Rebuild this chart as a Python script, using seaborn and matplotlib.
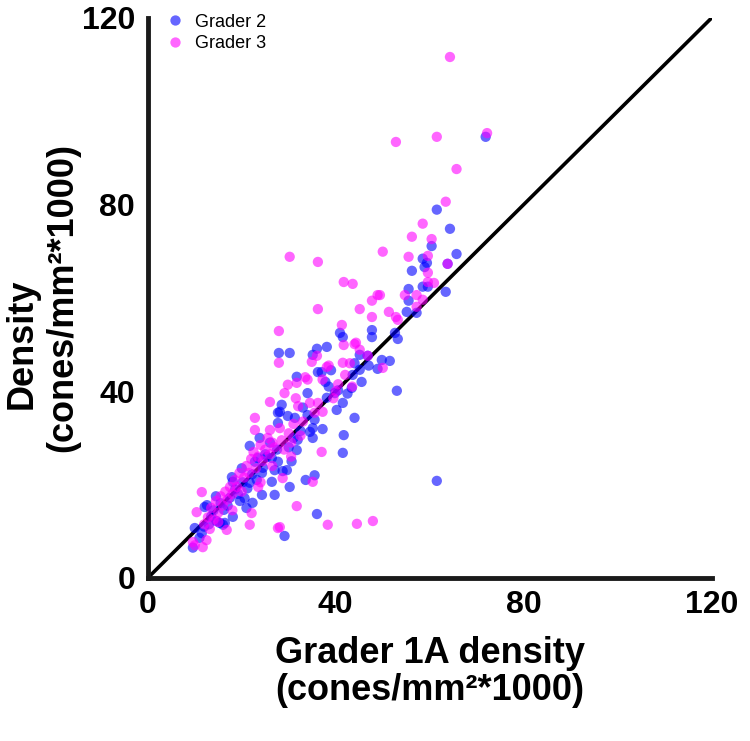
import numpy as np
import pandas as pd
import matplotlib
matplotlib.use("Agg")
import matplotlib.pyplot as plt
import seaborn as sns

# Grader 2 (blue): x = Grader 1A density, y = Grader 2 density
g2 = [
    (9.6,6.5),(10.0,10.7),(11.0,8.6),(11.5,9.6),(12.1,15.2),(12.6,15.6),(13.0,11.5),(13.5,13.2),
    (14.0,14.5),(14.6,12.2),(15.3,11.8),(16.0,11.4),(16.4,11.8),(15.5,16.0),(16.2,14.6),(17.0,15.5),
    (17.5,17.2),(17.9,21.6),(18.1,20.6),(18.1,13.1),(18.6,19.0),(19.2,18.0),(19.6,16.5),(20.6,17.1),
    (20.2,20.5),(21.0,15.0),(21.2,19.2),(21.7,20.4),(22.3,16.1),(22.2,22.2),(21.7,28.3),(22.8,24.9),
    (23.2,21.0),(23.4,25.7),(23.8,30.0),(24.3,22.5),(24.3,17.8),(24.5,23.6),(25.0,26.5),(25.3,25.9),
    (26.4,25.7),(26.4,20.6),(27.0,17.8),(27.0,23.1),(27.7,24.9),(27.7,33.2),(27.5,27.5),(27.7,35.4),
    (28.1,35.6),(28.5,37.1),(28.7,22.9),(29.1,9.0),(29.6,23.1),(29.8,34.7),(30.2,19.5),(30.0,28.0),
    (30.6,25.0),(31.0,30.0),(31.3,34.3),(31.7,27.4),(31.7,43.1),(31.9,29.6),(32.5,31.5),(33.6,21.0),
    (34.0,39.6),(34.0,34.9),(34.5,31.3),(35.1,32.1),(35.1,30.0),(35.5,33.9),(35.5,22.0),(36.0,13.7),
    (36.2,44.1),(37.0,44.1),(37.2,31.9),(38.1,38.6),(39.8,39.6),(40.2,36.0),(41.5,37.5),(41.7,30.6),
    (41.5,26.8),(43.4,40.7),(44.0,34.3),(42.5,39.5),(43.6,43.5),(45.1,44.6),(37.8,42.0),(38.5,41.0),
    (27.9,48.2),(30.2,48.2),(35.1,47.8),(36.0,49.1),(38.1,49.5),(40.9,52.5),(41.5,51.6),(45.1,47.8),
    (47.7,53.1),(47.7,51.6),(48.9,44.8),(49.8,46.7),(51.5,46.5),(52.6,52.5),(53.2,51.2),(53.0,40.1),
    (55.1,57.0),(57.2,56.8),(55.5,61.9),(55.5,59.4),(56.2,65.8),(58.5,68.4),(59.4,67.5),(58.9,66.6),
    (58.5,62.4),(59.6,62.4),(60.4,71.1),(61.5,78.9),(63.4,61.3),(63.8,67.3),(64.3,74.8),(65.7,69.4),
    (71.9,94.5),(61.5,20.8),(46.8,47.6),(44.0,46.0),(33.0,36.5),(26.0,29.0),(20.0,23.5),(14.5,17.5),
    (12.0,11.0),(45.5,42.0),(47.0,45.5),(40.5,40.2),(39.0,44.5),
]
# Grader 3 (magenta)
g3 = [
    (9.6,7.7),(10.0,7.0),(10.4,14.1),(11.5,18.4),(11.7,6.6),(12.5,8.1),(12.0,11.5),(12.8,13.0),
    (13.2,10.5),(13.5,15.0),(14.0,12.5),(14.5,16.5),(15.0,14.0),(15.5,17.5),(16.0,15.5),(16.8,10.3),
    (16.5,18.5),(17.0,16.8),(17.5,19.5),(18.0,18.0),(18.5,21.0),(19.0,19.5),(19.5,22.5),(20.0,18.5),
    (20.5,21.5),(21.0,24.0),(21.7,11.4),(22.1,13.9),(21.5,22.5),(22.0,25.5),(22.5,27.0),(22.8,34.3),
    (22.8,31.7),(23.0,23.5),(23.5,26.0),(24.0,28.5),(24.5,25.0),(25.0,27.5),(25.5,30.0),(26.0,31.7),
    (26.0,37.7),(26.0,26.5),(26.5,29.0),(27.0,28.0),(27.7,10.7),(27.9,46.1),(27.9,52.9),(28.1,32.1),
    (28.1,10.9),(28.7,21.4),(28.5,29.5),(29.0,27.5),(29.1,39.6),(29.8,41.4),(30.2,68.8),(30.0,31.0),
    (30.5,29.0),(31.0,33.0),(31.5,38.5),(31.7,41.8),(31.7,15.4),(32.0,36.8),(32.5,30.5),(33.5,43.0),
    (34.0,42.5),(34.5,37.5),(34.9,46.3),(35.1,20.6),(35.5,35.4),(36.0,47.6),(36.2,57.6),(36.2,67.7),
    (36.2,37.5),(37.0,27.0),(37.2,35.6),(37.2,42.5),(38.1,45.2),(38.3,11.4),(38.5,45.5),(39.5,38.5),
    (40.5,41.5),(41.3,54.2),(41.5,46.1),(41.7,49.9),(41.7,63.4),(42.0,43.5),(43.0,46.0),(43.6,63.0),
    (44.0,50.1),(44.3,50.4),(45.1,48.9),(45.1,57.6),(44.5,11.6),(46.8,47.6),(47.7,59.4),(47.7,55.9),
    (47.9,12.2),(48.9,60.6),(49.4,60.6),(50.0,69.9),(50.0,45.0),(51.3,57.0),(52.8,55.9),(53.2,55.3),
    (52.8,93.4),(54.7,60.6),(55.5,68.8),(56.2,73.1),(57.2,60.6),(57.2,58.1),(58.5,59.6),(58.5,75.9),
    (59.6,69.0),(59.6,65.4),(59.6,63.4),(60.9,63.2),(60.4,72.6),(61.5,94.5),(63.4,80.6),(63.8,67.3),
    (64.3,111.6),(65.7,87.6),(72.2,95.3),(24.0,20.5),(26.5,24.0),(18.0,14.5),(15.0,12.0),(40.0,40.0),
    (43.5,41.0),(33.0,33.5),(30.5,26.0),(23.5,19.5),
]

g2_x = [p[0] for p in g2]
g2_y = [p[1] for p in g2]
g3_x = [p[0] for p in g3]
g3_y = [p[1] for p in g3]

ticks = [0, 40, 80, 120]
line_x = [0, 120]
line_y = [0, 120]

df = pd.DataFrame({
    "x": g2_x + g3_x,
    "y": g2_y + g3_y,
    "grader": ["Grader 2"] * len(g2_x) + ["Grader 3"] * len(g3_x),
})

sns.set_style("white")
plt.rcParams["font.family"] = ["Liberation Sans", "DejaVu Sans"]
plt.rcParams["text.color"] = "black"

fig = plt.figure(figsize=(7.5, 7.41), dpi=100)
ax = fig.add_axes([0.197, 0.22, 0.752, 0.756])

ax.plot(line_x, line_y, color="black", lw=2.6, zorder=1, solid_capstyle="butt")
sns.scatterplot(data=df, x="x", y="y", hue="grader",
                palette={"Grader 2": "#0000ff", "Grader 3": "#ff00ff"},
                s=55, alpha=0.6, linewidth=0, ax=ax, zorder=2)

ax.set_xlim(0, 120)
ax.set_ylim(0, 120)
ax.set_xticks(ticks)
ax.set_yticks(ticks)
ax.set_xticklabels([str(t) for t in ticks], fontsize=23, fontweight="bold", color="black")
ax.set_yticklabels([str(t) for t in ticks], fontsize=23, fontweight="bold", color="black")
ax.tick_params(axis="both", direction="out", length=7, width=3.5, color="#1a1a1a", pad=2)

for side in ["top", "right"]:
    ax.spines[side].set_visible(False)
for side in ["left", "bottom"]:
    ax.spines[side].set_linewidth(3.5)
    ax.spines[side].set_color("#1a1a1a")

ax.set_xlabel("Grader 1A density\n(cones/mm²*1000)", fontsize=26, fontweight="bold",
              labelpad=11, linespacing=1.1, color="black")
ax.set_ylabel("")
ax.text(-0.2234, 0.418, "Density", rotation=90, rotation_mode="anchor",
        ha="center", va="center", fontsize=26, fontweight="bold", transform=ax.transAxes)
ax.text(-0.150, 0.5, "(cones/mm²*1000)", rotation=90, rotation_mode="anchor",
        ha="center", va="center", fontsize=26, fontweight="bold", transform=ax.transAxes)

leg = ax.legend(loc="upper left", bbox_to_anchor=(0.0, 1.03), frameon=False, fontsize=13,
                handletextpad=0.3, handlelength=1.6, borderaxespad=0.3, labelspacing=0.25,
                markerscale=1.0)
leg.set_title(None)

fig.savefig("out.png", dpi=100)
